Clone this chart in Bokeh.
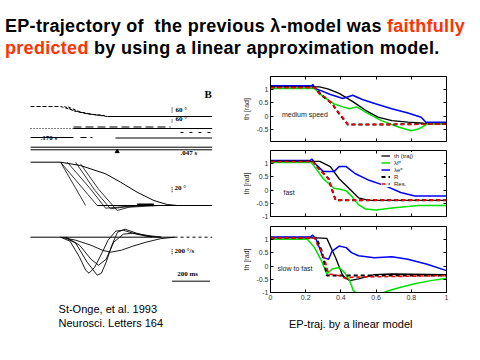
from bokeh.plotting import figure
from bokeh.layouts import column, row
from bokeh.models import Div, Label, Range1d, LinearAxis, FixedTicker, Legend, LegendItem
from bokeh.embed import file_html
from bokeh.resources import INLINE

# ------------------------------------------------------------------ texts
title_1a = "EP-trajectory of&nbsp; the previous λ-model was "
title_1b = "faithfully"
title_2a = "predicted"
title_2b = " by using a linear approximation model."
cite_1 = "St-Onge, et al. 1993"
cite_2 = "Neurosci. Letters 164"
caption = "EP-traj. by a linear model"

# ------------------------------------------------------------------ right panel data (t [s], angle [rad])
x_ticks = [0, 0.2, 0.4, 0.6, 0.8, 1]
x_labels = ["0", "0.2", "0.4", "0.6", "0.8", "1"]
y_ticks_1 = [-0.5, 0, 0.5, 1]
y_labels_1 = ["-0.5", "0", "0.5", "1"]
y_ticks_23 = [-1, -0.5, 0, 0.5, 1]
y_labels_23 = ["-1", "-0.5", "0", "0.5", "1"]
legend_labels = ["th (traj)", "λf*", "λe*", "R", "Res."]
panel_names = ["medium speed", "fast", "slow to fast"]
y_label = "th [rad]"

# medium speed
med_traj_x = [0, 0.28, 0.33, 0.39, 0.47, 0.54, 0.61, 0.69, 0.78, 0.87, 1.0]
med_traj_y = [1.11, 1.11, 1.02, 0.86, 0.54, 0.22, -0.04, -0.17, -0.23, -0.27, -0.3]
med_lf_x = [0, 0.25, 0.30, 0.36, 0.41, 0.45, 0.49, 0.54, 0.63, 0.73, 0.80, 0.84, 0.89, 1.0]
med_lf_y = [1.05, 1.05, 0.73, 0.47, 0.35, 0.28, 0.35, 0.15, -0.17, -0.42, -0.55, -0.49, -0.3, -0.3]
med_le_x = [0, 0.235, 0.24, 0.254, 0.337, 0.411, 0.467, 0.522, 0.596, 0.689, 0.781, 0.856, 0.883, 1.0]
med_le_y = [1.15, 1.15, 1.2, 1.05, 0.83, 0.67, 0.79, 0.63, 0.47, 0.28, 0.12, -0.04, -0.23, -0.23]
med_r_x = [0, 0.25, 0.29, 0.35, 0.39, 0.44, 0.6, 0.87, 1.0]
med_r_y = [1.1, 1.1, 0.8, 0.47, 0.09, -0.32, -0.32, -0.3, -0.3]
med_res_x = [0, 0.25, 0.28, 0.31, 0.35, 0.38, 0.41, 0.44, 1.0]
med_res_y = [1.08, 1.08, 0.82, 0.72, 0.47, 0.2, -0.05, -0.32, -0.3]

# fast
fast_traj_x = [0, 0.28, 0.34, 0.39, 0.45, 0.5, 0.56, 1.0]
fast_traj_y = [1.09, 1.09, 0.89, 0.43, 0.04, -0.29, -0.39, -0.39]
fast_lf_x = [0, 0.23, 0.25, 0.3, 0.36, 0.39, 0.43, 0.46, 0.5, 0.54, 0.6, 0.69, 0.84, 1.0]
fast_lf_y = [1.05, 1.05, 0.89, 0.43, 0.07, 0.04, -0.03, -0.22, -0.55, -0.72, -0.75, -0.68, -0.58, -0.58]
fast_le_x = [0, 0.225, 0.235, 0.25, 0.3, 0.36, 0.39, 0.43, 0.48, 0.56, 0.65, 0.74, 0.82, 1.0]
fast_le_y = [1.12, 1.12, 1.18, 1.03, 0.7, 0.7, 0.89, 0.89, 0.63, 0.37, 0.17, -0.09, -0.22, -0.22]
fast_r_x = [0, 0.24, 0.27, 0.31, 0.33, 0.35, 0.37, 1.0]
fast_r_y = [1.1, 1.1, 0.85, 0.57, 0.43, 0.0, -0.38, -0.38]
fast_res_x = [0, 0.24, 0.27, 0.31, 0.33, 0.34, 0.36, 0.37, 1.0]
fast_res_y = [1.08, 1.08, 0.83, 0.57, 0.43, 0.24, -0.16, -0.38, -0.38]

# slow to fast
sf_traj_x = [0, 0.26, 0.32, 0.37, 0.41, 0.45, 0.5, 0.59, 0.69, 1.0]
sf_traj_y = [1.07, 1.07, 1.05, 0.32, -0.36, -0.55, -0.48, -0.32, -0.3, -0.32]
sf_lf_x = [0, 0.21, 0.25, 0.29, 0.32, 0.35, 0.39, 0.42, 0.45, 0.47, 0.52, 0.58, 0.63, 0.66, 0.74, 0.82, 0.91, 1.0]
sf_lf_y = [1.02, 1.02, 0.7, 0.2, -0.3, -0.11, -0.05, -0.24, -0.55, -0.92, -1.2, -1.3, -1.05, -0.95, -0.8, -0.67, -0.55, -0.46]
sf_le_x = [0, 0.225, 0.24, 0.26, 0.3, 0.33, 0.35, 0.39, 0.43, 0.46, 0.5, 0.59, 0.69, 0.78, 0.89, 1.0]
sf_le_y = [1.1, 1.1, 1.17, 1.0, 0.32, 0.26, 0.57, 0.76, 0.7, 0.51, 0.39, 0.32, 0.35, 0.26, 0.07, -0.17]
sf_r_x = [0, 0.26, 0.29, 0.31, 0.32, 1.0]
sf_r_y = [1.07, 1.07, 0.6, 0.0, -0.36, -0.36]
sf_res_x = [0, 0.25, 0.27, 0.29, 0.31, 0.33, 0.39, 0.43, 0.46, 1.0]
sf_res_y = [1.07, 1.07, 0.76, 0.57, 0.2, -0.3, -0.36, -0.48, -0.42, -0.36]

# ------------------------------------------------------------------ left panel data (St-Onge et al., Fig. B)
# time in ms (0 = movement onset), deflections in display units relative to each block's baseline
top_lead_t = [-158, 0]
top_lead_v = [0, 0]
top_desc_t = [[0, 68, 132, 210, 247], [20, 80, 150, 230], [40, 105, 170, 240]]
top_desc_v = [[0, -4, -7, -9, -10], [0, -5, -7.5, -9], [-0.5, -5.5, -8, -9.5]]
top_flat_t = [247, 798]
top_flat_v = [-10, -10]
ref2_dot_t = [-158, 68]
ref2_t = [68, 798]
ref2_v = -22
ref2_up_t = [68, 579]
ref2_up_v = -20.5
ref2_dn_t = [631, 790]
ref2_dn_v = -26
ref3_a_t = [-158, 68]
ref3_b_t = [105, 168]
ref3_c_t = [289, 798]
ref3_v = [-31, -31, -31.5]
ref4_t = [-158, 798]
ref4_v = [-40.7, -43.3]
marker_t = [298]
marker_v = [-45]

pos_slow_t = [-158, 0, 105, 237, 316, 403, 491, 561, 614]
pos_slow_v = [0, 0, -3.3, -11.6, -20, -30, -38.3, -42.3, -43.3]
pos_fast_t = [[0, 132], [0, 193], [35, 150, 237, 300, 400], [79, 180, 263, 330, 450], [105, 200, 298, 360, 520]]
pos_fast_v = [[0, -43.3], [0, -43.3], [0, -25, -46, -45, -43.3], [0, -28, -46.6, -45, -43.3], [-1.6, -27, -48.3, -45, -43.3]]
pos_end_t = [193, 798]
pos_end_v = [-43.3, -43.3]
pos_bold_t = [403, 491]
pos_bold_v = [-42.6, -42.6]

vel_t = [[0, 50, 100, 132, 150, 180, 220, 250, 290, 330, 380, 450, 530],
         [20, 80, 140, 193, 215, 240, 270, 300, 340, 400, 480],
         [30, 100, 160, 200, 240, 280, 330, 380, 450, 530],
         [0, 80, 160, 220, 263, 320, 380, 450, 526, 600]]
vel_v = [[0, -4, -20, -33, -36, -30, -15, -3, 6, 7, 4, 1, 0],
         [0, -6, -25, -38, -36, -25, -8, 5, 8, 4, 0],
         [0, -8, -22, -28, -22, -5, 3, 4, 2, 0],
         [0, -3, -8, -13, -15, -13, -9, -5, -1.5, 0]]
vel_base_t = [-158, 600]
vel_base_dot_t = [600, 798]
scale_ms = 200
scale_labels = ["60 °", "60 °", "20 °", "200 °/s", "200 ms", ".170 s", ".047 s"]

# ------------------------------------------------------------------ layout constants
TOP_BASE, POS_BASE, VEL_BASE = 246, 190.3, 115.3
FONT = "Liberation Sans"
SERIF = "Liberation Serif"

# ------------------------------------------------------------------ title
title_div = Div(
    text=('<div style="font-family:\'Liberation Sans\',Arial,sans-serif;'
          'font-weight:bold;font-size:18px;line-height:22px;padding-top:15px;padding-left:5px;'
          'letter-spacing:0.3px;white-space:nowrap;color:#000">'
          f'{title_1a}<span style="color:#ff3300">{title_1b}</span><br>'
          f'<span style="color:#ff3300">{title_2a}</span>{title_2b}</div>'),
    width=472, height=62, margin=0)

# ------------------------------------------------------------------ left panel
left = figure(width=240, height=290, x_range=Range1d(-316, 947), y_range=Range1d(0, 290),
              output_backend="svg", toolbar_location=None, min_border=0,
              x_axis_location=None, y_axis_location=None)
left.grid.visible = False
left.outline_line_color = None


def add(vals, base):
    return [base + v for v in vals]


# top block
left.line(top_lead_t, add(top_lead_v, TOP_BASE), line_color="black", line_width=1, line_dash="4 2")
for t, v in zip(top_desc_t, top_desc_v):
    left.line(t, add(v, TOP_BASE), line_color="black", line_width=1, line_dash="3 2")
left.line(top_flat_t, add(top_flat_v, TOP_BASE), line_color="black", line_width=1)
left.line(ref2_dot_t, [TOP_BASE + ref2_v] * 2, line_color="black", line_width=1, line_dash="1 2")
left.line(ref2_t, [TOP_BASE + ref2_v] * 2, line_color="black", line_width=1)
left.line(ref2_up_t, [TOP_BASE + ref2_up_v] * 2, line_color="black", line_width=1, line_dash="8 4")
left.line(ref2_dn_t, [TOP_BASE + ref2_dn_v] * 2, line_color="black", line_width=1, line_dash="3 6")
for t, v, d in zip([ref3_a_t, ref3_b_t, ref3_c_t], ref3_v, ["solid", "6 4", "solid"]):
    left.line(t, [TOP_BASE + v] * 2, line_color="black", line_width=1, line_dash=d)
for v in ref4_v:
    left.line(ref4_t, [TOP_BASE + v] * 2, line_color="black", line_width=1)
left.scatter(marker_t, add(marker_v, TOP_BASE), marker="triangle", size=4, color="black")

# position block
left.line(pos_slow_t, add(pos_slow_v, POS_BASE), line_color="black", line_width=1)
for t, v in zip(pos_fast_t, pos_fast_v):
    left.line(t, add(v, POS_BASE), line_color="black", line_width=0.8)
left.line(pos_end_t, add(pos_end_v, POS_BASE), line_color="black", line_width=1)
left.line(pos_bold_t, add(pos_bold_v, POS_BASE), line_color="black", line_width=2.5)

# velocity block
for t, v in zip(vel_t, vel_v):
    left.line(t, add(v, VEL_BASE), line_color="black", line_width=0.9)
left.line(vel_base_t, [VEL_BASE] * 2, line_color="black", line_width=1)
left.line(vel_base_dot_t, [VEL_BASE] * 2, line_color="black", line_width=1, line_dash="3 3")

# scale bars
bar_t0 = 587
left.line([bar_t0, bar_t0 + scale_ms], [71.3, 71.3], line_color="black", line_width=1)
left.segment(x0=[bar_t0] * 4, y0=[TOP_BASE - 6, TOP_BASE - 16, POS_BASE - 30, VEL_BASE - 17],
             x1=[bar_t0] * 4, y1=[TOP_BASE - 1, TOP_BASE - 12, POS_BASE - 25, VEL_BASE - 11],
             line_color="black", line_width=1, line_dash="1 1")

lab_pos = [(605, TOP_BASE - 7.3), (605, TOP_BASE - 16.3), (600, POS_BASE - 30), (600, VEL_BASE - 17.3),
           (614, 75), (-105, TOP_BASE - 35.7), (631, TOP_BASE - 50.7)]
for (tx, ty), s in zip(lab_pos, scale_labels):
    left.add_layout(Label(x=tx, y=ty, text=s, text_font=SERIF, text_font_style="bold",
                          text_font_size="7px", text_color="black"))
left.add_layout(Label(x=757, y=253, text="B", text_font=SERIF, text_font_style="bold",
                      text_font_size="11px", text_color="black"))
left.add_layout(Label(x=-10.5, y=37.7, text=cite_1, text_font=FONT, text_font_size="11px", text_color="black"))
left.add_layout(Label(x=-10.5, y=23.7, text=cite_2, text_font=FONT, text_font_size="11px", text_color="black"))


# ------------------------------------------------------------------ right panels
def style_axis(ax, ticks, labels, fixed=None):
    ax.ticker = FixedTicker(ticks=ticks, minor_ticks=[])
    ax.major_tick_in = 3
    ax.major_tick_out = 0
    ax.minor_tick_line_color = None
    ax.axis_line_color = "black"
    ax.major_tick_line_color = "black"
    if labels is None:
        # tick marks only: pinned to the frame edge so it takes no border space
        ax.fixed_location = fixed
        ax.major_label_overrides = {t: "" for t in ticks}
        ax.major_label_text_font_size = "0px"
        ax.major_label_standoff = 0
    else:
        ax.major_label_overrides = dict(zip(ticks, labels))
        ax.major_label_text_font_size = "7px"
        ax.major_label_text_font = FONT
        ax.major_label_text_color = "#333333"
        ax.major_label_standoff = 2


def panel(h, top, bottom, yr, yt, yl, show_x, series, name, name_xy):
    p = figure(width=232, height=h, x_range=Range1d(0, 1), y_range=Range1d(*yr),
               output_backend="svg", toolbar_location=None,
               min_border_left=26, min_border_right=26, min_border_top=top, min_border_bottom=bottom)
    p.grid.visible = False
    p.outline_line_color = "black"
    style_axis(p.xaxis[0], x_ticks, x_labels if show_x else None, yr[0])
    style_axis(p.yaxis[0], yt, yl)
    p.yaxis[0].axis_label = y_label
    p.yaxis[0].axis_label_text_font = FONT
    p.yaxis[0].axis_label_text_font_size = "7px"
    p.yaxis[0].axis_label_text_font_style = "normal"
    p.yaxis[0].axis_label_text_color = "#333333"
    p.yaxis[0].axis_label_standoff = 3
    ax_top = LinearAxis()
    style_axis(ax_top, x_ticks, None, yr[1])
    p.add_layout(ax_top, "above")
    ax_r = LinearAxis()
    style_axis(ax_r, yt, None, 1)
    p.add_layout(ax_r, "right")
    (tx, ty), (gx, gy), (bx, by), (rx, ry), (sx, sy) = series
    rends = [
        p.line(tx, ty, line_color="black", line_width=1.3),
        p.line(gx, gy, line_color="#00e000", line_width=1.5),
        p.line(bx, by, line_color="#0000ff", line_width=1.5),
        p.line(rx, ry, line_color="black", line_width=2, line_dash="4 3"),
        p.line(sx, sy, line_color="#ff0000", line_width=1.6, line_dash="4 3"),
    ]
    p.add_layout(Label(x=name_xy[0], y=name_xy[1], text=name, text_font=FONT,
                       text_font_size="7px", text_color="#222222"))
    return p, rends


f1, _ = panel(84, 14, 5, (-0.96, 1.5), y_ticks_1, y_labels_1, False,
              [(med_traj_x, med_traj_y), (med_lf_x, med_lf_y), (med_le_x, med_le_y),
               (med_r_x, med_r_y), (med_res_x, med_res_y)], panel_names[0], (0.065, -0.06))
f2, r2 = panel(75, 4, 5, (-1, 1.5), y_ticks_23, y_labels_23, False,
               [(fast_traj_x, fast_traj_y), (fast_lf_x, fast_lf_y), (fast_le_x, fast_le_y),
                (fast_r_x, fast_r_y), (fast_res_x, fast_res_y)], panel_names[1], (0.074, -0.23))
f3, _ = panel(89, 5, 18, (-1, 1.5), y_ticks_23, y_labels_23, True,
              [(sf_traj_x, sf_traj_y), (sf_lf_x, sf_lf_y), (sf_le_x, sf_le_y),
               (sf_r_x, sf_r_y), (sf_res_x, sf_res_y)], panel_names[2], (0.04, -0.23))

legend = Legend(items=[LegendItem(label=l, renderers=[r]) for l, r in zip(legend_labels, r2)],
                location="top_right")
legend.label_text_font = FONT
legend.label_text_font_size = "6px"
legend.label_text_color = "#222222"
legend.glyph_height = 7
legend.glyph_width = 9
legend.label_height = 7
legend.label_width = 50
legend.label_standoff = 4
legend.spacing = 0
legend.padding = 1
legend.margin = 2
legend.border_line_color = None
legend.background_fill_color = "white"
legend.background_fill_alpha = 1
f2.add_layout(legend)

cap_div = Div(text=('<div style="font-family:\'Liberation Sans\',Arial,sans-serif;font-size:11px;'
                    f'line-height:13px;padding-left:49px;padding-top:8px;white-space:nowrap;color:#000">{caption}</div>'),
              width=232, height=42, margin=0)

layout = column(title_div, row(left, column(f1, f2, f3, cap_div, spacing=0), spacing=0), spacing=0)

open("out.html", "w").write(file_html(layout, INLINE))
